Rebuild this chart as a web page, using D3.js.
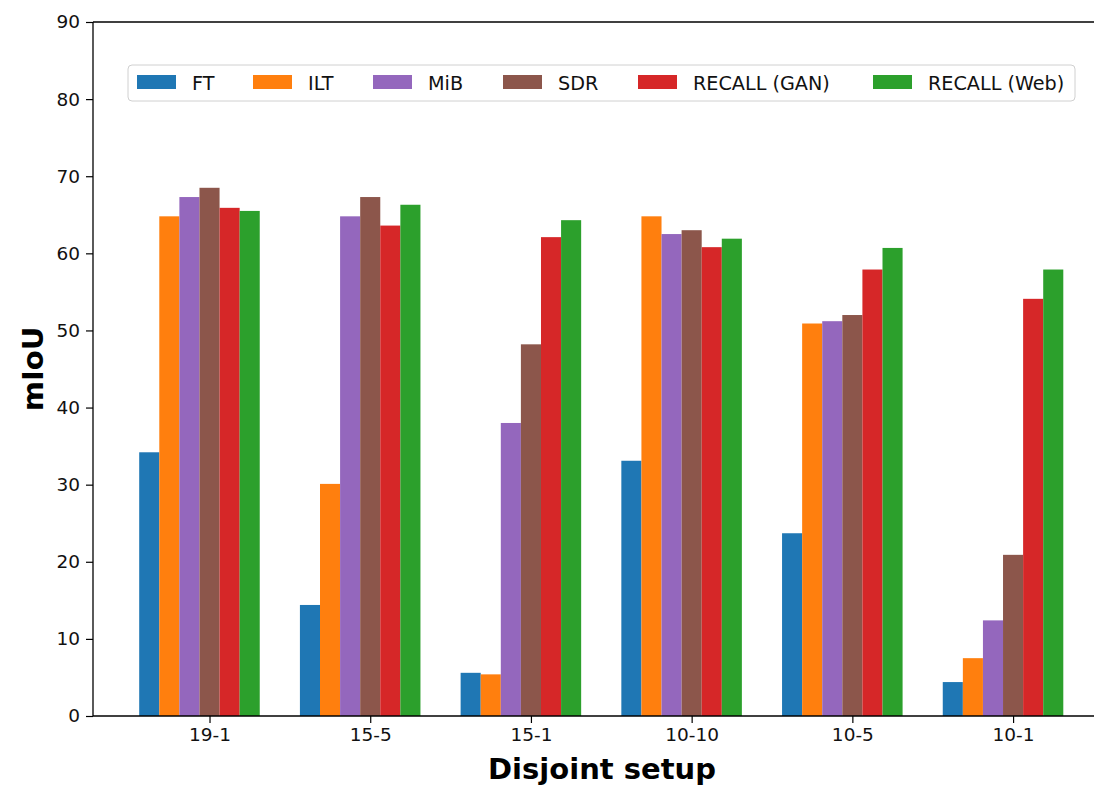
<!DOCTYPE html>
<html>
<head>
<meta charset="utf-8">
<script src="https://cdn.jsdelivr.net/npm/d3@7/dist/d3.min.js"></script>
<style>
html,body{margin:0;padding:0;background:#fff;}
svg{display:block;font-family:"DejaVu Sans",sans-serif;}
</style>
</head>
<body>
<svg id="chart" width="1094" height="785"></svg>
<script>
const categories = ["19-1", "15-5", "15-1", "10-10", "10-5", "10-1"];
const seriesNames = ["FT", "ILT", "MiB", "SDR", "RECALL (GAN)", "RECALL (Web)"];
const seriesColors = ["#1f77b4", "#ff7f0e", "#9467bd", "#8c564b", "#d62728", "#2ca02c"];
const FT = [34.2, 14.4, 5.6, 33.1, 23.7, 4.4];
const ILT = [64.8, 30.1, 5.4, 64.8, 50.9, 7.5];
const MiB = [67.3, 64.8, 38.0, 62.5, 51.2, 12.4];
const SDR = [68.5, 67.3, 48.2, 63.0, 52.0, 20.9];
const RECALL_GAN = [65.9, 63.6, 62.1, 60.8, 57.9, 54.1];
const RECALL_Web = [65.5, 66.3, 64.3, 61.9, 60.7, 57.9];
const yTicks = [0, 10, 20, 30, 40, 50, 60, 70, 80, 90];

const seriesValues = [FT, ILT, MiB, SDR, RECALL_GAN, RECALL_Web];
const svg = d3.select("#chart");
const mLeft = 93, mTop = 22, mBottom = 716, mRight = 1109.5;
const barW = 0.125;

const x = d3.scaleLinear().domain([-0.725, 5.6]).range([mLeft, mRight]);
const y = d3.scaleLinear().domain([0, 90]).range([mBottom, mTop]);

// bars
seriesValues.forEach((vals, j) => {
  svg.append("g").selectAll("rect").data(vals).join("rect")
    .attr("x", (d, i) => x(i + (j - 3) * barW - barW / 2))
    .attr("width", x(barW) - x(0))
    .attr("y", d => y(d))
    .attr("height", d => y(0) - y(d))
    .attr("fill", seriesColors[j]);
});

// axes
const xAxis = d3.axisBottom(x).tickValues(d3.range(categories.length))
  .tickFormat(i => categories[i]).tickSize(7).tickPadding(5);
const gx = svg.append("g").attr("transform", `translate(0,${mBottom})`).call(xAxis);
gx.select(".domain").remove();
gx.selectAll("line").attr("stroke", "#000").attr("stroke-width", 1.2);
gx.selectAll("text").attr("font-size", 18.5).attr("fill", "#111")
  .attr("font-family", "DejaVu Sans");

const yAxis = d3.axisLeft(y).tickValues(yTicks).tickSize(7).tickPadding(6);
const gy = svg.append("g").attr("transform", `translate(${mLeft},0)`).call(yAxis);
gy.select(".domain").remove();
gy.selectAll("line").attr("stroke", "#000").attr("stroke-width", 1.2);
gy.selectAll("text").attr("font-size", 18.5).attr("fill", "#111")
  .attr("font-family", "DejaVu Sans");

// spines
svg.append("line").attr("x1", mLeft).attr("x2", mRight).attr("y1", mBottom).attr("y2", mBottom)
  .attr("stroke", "#000").attr("stroke-width", 1.3);
svg.append("line").attr("x1", mLeft).attr("x2", mRight).attr("y1", mTop).attr("y2", mTop)
  .attr("stroke", "#000").attr("stroke-width", 1.3);
svg.append("line").attr("x1", mLeft).attr("x2", mLeft).attr("y1", mTop).attr("y2", mBottom)
  .attr("stroke", "#000").attr("stroke-width", 1.3);

// axis labels
svg.append("text").attr("x", 602).attr("y", 779).attr("text-anchor", "middle")
  .attr("font-size", 29).attr("font-weight", "bold").text("Disjoint setup");
svg.append("text").attr("transform", `translate(43,${(mTop + mBottom) / 2}) rotate(-90)`)
  .attr("text-anchor", "middle").attr("font-size", 29).attr("font-weight", "bold").text("mIoU");

// legend
const lg = svg.append("g");
lg.append("rect").attr("x", 128).attr("y", 65).attr("width", 947).attr("height", 36)
  .attr("rx", 4).attr("fill", "#fff").attr("fill-opacity", 0.8)
  .attr("stroke", "#d0d0d0").attr("stroke-width", 1);
const swatchX = [137, 253, 373, 503, 638, 873];
seriesNames.forEach((name, j) => {
  lg.append("rect").attr("x", swatchX[j]).attr("y", 75).attr("width", 39).attr("height", 14)
    .attr("fill", seriesColors[j]);
  lg.append("text").attr("x", swatchX[j] + 55).attr("y", 89.5).attr("font-size", 19.2)
    .attr("fill", "#111").text(name);
});
</script>
</body>
</html>
